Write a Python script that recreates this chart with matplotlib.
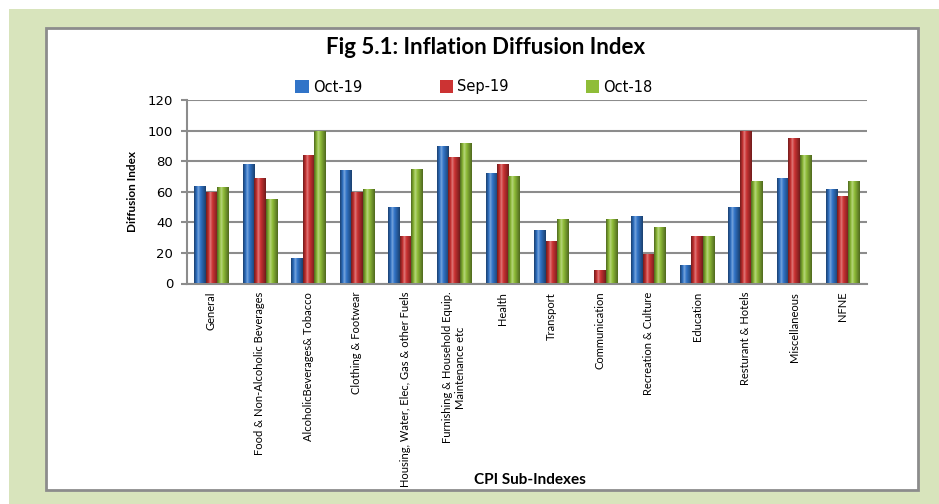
import numpy as np
import matplotlib
matplotlib.use("Agg")
import matplotlib.pyplot as plt
from matplotlib.patches import Rectangle
from matplotlib.colors import to_rgb

categories = ["General", "Food & Non-Alcoholic Beverages", "AlcoholicBeverages& Tobacco",
              "Clothing & Footwear", "Housing, Water, Elec, Gas & other Fuels",
              "Furnishing & Household Equip.\nMaintenance etc", "Health", "Transport",
              "Communication", "Recreation & Culture", "Education", "Resturant & Hotels",
              "Miscellaneous", "NFNE"]
oct19 = [64, 78, 17, 74, 50, 90, 72, 35, 0, 44, 12, 50, 69, 62]
sep19 = [60, 69, 84, 60, 31, 83, 78, 28, 9, 19, 31, 100, 95, 57]
oct18 = [63, 55, 100, 62, 75, 92, 70, 42, 42, 37, 31, 67, 84, 67]
series = [("Oct-19", oct19, "#3174c8"), ("Sep-19", sep19, "#cc3333"), ("Oct-18", oct18, "#8fbd38")]
yticks = [0, 20, 40, 60, 80, 100, 120]

W, H = 939, 504
fig = plt.figure(figsize=(W / 100, H / 100), dpi=100)
fig.patch.set_facecolor("white")

def px(x0, y0, x1, y1, **kw):
    r = Rectangle((x0 / W, 1 - y1 / H), (x1 - x0) / W, (y1 - y0) / H,
                  transform=fig.transFigure, **kw)
    fig.add_artist(r)
    return r

px(9, 9, 939, 504, facecolor="#d8e4bc", edgecolor="none", zorder=0)
px(46, 28, 918, 490, facecolor="white", edgecolor="#8c8c8c", linewidth=2, zorder=1)

ax = fig.add_axes([187 / W, 1 - 283.5 / H, 680 / W, 183.5 / H], zorder=2)
ax.set_facecolor("none")

x = np.arange(len(categories))
bw = 0.235
offsets = [-bw, 0, bw]

def shade(color, n=64):
    base = np.array(to_rgb(color))
    t = np.linspace(0, 1, n)
    img = np.zeros((1, n, 3))
    for i, ti in enumerate(t):
        if ti < 0.35:
            d = abs(ti - 0.35) / 0.35
        else:
            d = abs(ti - 0.35) / 0.65
        if d < 0.3:
            c = base + (1 - base) * (0.3 - d) * 1.2
        else:
            c = base * (1 - 0.45 * (d - 0.3) / 0.7)
        img[0, i] = np.clip(c, 0, 1)
    return img

handles = []
for (name, vals, col), off in zip(series, offsets):
    bars = ax.bar(x + off, vals, width=bw, color=col, zorder=3, label=name)
    handles.append(bars)
    img = shade(col)
    for b in bars:
        if b.get_height() <= 0:
            continue
        b.set_facecolor("none")
        b.set_edgecolor("none")
        im = ax.imshow(img, extent=[b.get_x(), b.get_x() + b.get_width(), 0, b.get_height()],
                       aspect="auto", zorder=3, interpolation="bilinear")
        im.set_clip_path(b)

ax.set_xlim(-0.5, len(categories) - 0.5)
ax.set_ylim(0, 120)
ax.set_yticks(yticks)
ax.set_yticklabels([str(v) for v in yticks], fontsize=9.5, family="DejaVu Sans")
ax.yaxis.grid(True, color="#8c8c8c", linewidth=1.5)
ax.set_axisbelow(True)
for s in ["top", "right"]:
    ax.spines[s].set_visible(False)
for s in ["left", "bottom"]:
    ax.spines[s].set_color("#8c8c8c")
    ax.spines[s].set_linewidth(1.5)
ax.tick_params(axis="y", length=4, color="#8c8c8c", width=1.5, pad=6)
ax.tick_params(axis="x", length=0, pad=6)
ax.set_xticks(x)
ax.set_xticklabels(categories, rotation=90, fontsize=8,
                   family=["Lato", "DejaVu Sans"], va="top", ha="center",
                   multialignment="center")

fig.text(132 / W, 1 - 192 / H, "Diffusion Index", rotation=90, ha="center", va="center",
         fontsize=8.5, fontweight="bold", family=["Lato", "DejaVu Sans"])
fig.text(530 / W, 1 - 480 / H, "CPI Sub-Indexes", ha="center", va="center",
         fontsize=11, fontweight="bold", family=["Lato", "DejaVu Sans"])
fig.text(486 / W, 1 - 47 / H, "Fig 5.1: Inflation Diffusion Index", ha="center", va="center",
         fontsize=16, fontweight="bold", family=["Lato", "DejaVu Sans"])

leg = fig.legend(handles=[Rectangle((0, 0), 1, 1, facecolor=c) for _, _, c in series],
                 labels=[n for n, _, _ in series], loc="center", ncol=3,
                 bbox_to_anchor=(474 / W, 1 - 87 / H), frameon=False, fontsize=10.5,
                 handlelength=0.9, handleheight=0.9, columnspacing=5.3, handletextpad=0.3)
leg.set_zorder(5)

fig.savefig("out.png", dpi=100, facecolor=fig.get_facecolor())
